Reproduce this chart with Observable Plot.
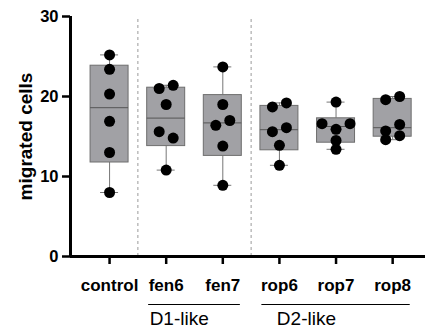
<!DOCTYPE html>
<html>
<head>
<meta charset="utf-8">
<script src="https://cdn.jsdelivr.net/npm/d3@7"></script>
<script src="https://cdn.jsdelivr.net/npm/@observablehq/plot@0.6"></script>
<style>
  html, body { margin: 0; padding: 0; background: #fff; }
  #chart svg { display: block; }
</style>
</head>
<body>
<div id="chart"></div>
<script>
// ---- data ----
const categories = ["control", "fen6", "fen7", "rop6", "rop7", "rop8"];
const controlValues = [25.2, 23.4, 20.3, 16.9, 13.0, 8.0];
const fen6Values    = [21.0, 21.4, 19.0, 15.6, 14.8, 10.8];
const fen7Values    = [23.7, 19.0, 16.4, 17.0, 13.8, 8.9];
const rop6Values    = [18.7, 19.2, 15.6, 16.1, 13.9, 11.4];
const rop7Values    = [19.3, 16.6, 15.9, 16.6, 14.5, 13.4];
const rop8Values    = [19.6, 20.0, 15.7, 16.5, 14.6, 15.1];
const seriesValues = [controlValues, fen6Values, fen7Values, rop6Values, rop7Values, rop8Values];
const groupNames = ["D1-like", "D2-like"];
const groupFirst = ["fen6", "rop6"];
const groupLast  = ["fen7", "rop8"];
const yTicks = [0, 10, 20, 30];
const yLabel = "migrated cells";

// ---- layout / style ----
const W = 425, H = 329;
const mL = 70, mR = 0, mT = 16, mB = 73;
const xDomain = [-0.69, 5.58];
const pxPerUnit = (W - mL - mR) / (xDomain[1] - xDomain[0]);
const boxHalf = 19 / pxPerUnit;
const capHalf = 9 / pxPerUnit;
const groupPad = 0.31;
const groupLabelDx = [1, 15]; // px from the start of each group line
const laneSpacing = 14; // px
const font = "'Liberation Sans', Arial, sans-serif";

// GraphPad-style quartiles ((n+1)p method)
function quant(sorted, p) {
  const n = sorted.length, h = (n + 1) * p, lo = Math.floor(h);
  if (lo < 1) return sorted[0];
  if (lo >= n) return sorted[n - 1];
  return sorted[lo - 1] + (h - lo) * (sorted[lo] - sorted[lo - 1]);
}

const stats = categories.map((c, i) => {
  const s = seriesValues[i].slice().sort(d3.ascending);
  return {i, c, min: s[0], max: s[s.length - 1], q1: quant(s, 0.25), med: quant(s, 0.5), q3: quant(s, 0.75)};
});

// dots with simple cluster-spread offsets
const points = [];
categories.forEach((c, i) => {
  const vals = seriesValues[i];
  const order = d3.range(vals.length).sort((a, b) => vals[b] - vals[a]);
  let k = 0;
  while (k < order.length) {
    const cluster = [order[k]];
    let j = k + 1;
    while (j < order.length && vals[order[k]] - vals[order[j]] < 1.0) { cluster.push(order[j]); j++; }
    cluster.sort((a, b) => a - b);
    cluster.forEach((idx, m) => {
      const off = (m - (cluster.length - 1) / 2) * laneSpacing;
      points.push({c, v: vals[idx], x: i + off / pxPerUnit});
    });
    k = j;
  }
});

const groups = groupNames.map((g, k) => ({
  name: g,
  a: categories.indexOf(groupFirst[k]),
  b: categories.indexOf(groupLast[k]),
  dx: groupLabelDx[k]
}));
const separators = groups.map(g => g.a - 0.5);

const chart = Plot.plot({
  width: W, height: H,
  marginLeft: mL, marginRight: mR, marginTop: mT, marginBottom: mB,
  style: {fontFamily: font, background: "#fff"},
  x: {domain: xDomain, axis: null},
  y: {domain: [0, 30], axis: null},
  marks: [
    Plot.ruleX(separators, {x: d => d, y1: 0, y2: 30, stroke: "#9a9a9a", strokeWidth: 1, strokeDasharray: "3,3"}),
    Plot.ruleX(stats, {x: "i", y1: "min", y2: "q1", stroke: "#777", strokeWidth: 1}),
    Plot.ruleX(stats, {x: "i", y1: "q3", y2: "max", stroke: "#777", strokeWidth: 1}),
    Plot.rectY(stats, {x1: d => d.i - boxHalf, x2: d => d.i + boxHalf, y1: "q1", y2: "q3", fill: "#a1a1a5", stroke: "#6e6e6e", strokeWidth: 1}),
    Plot.ruleY(stats, {y: "med", x1: d => d.i - boxHalf, x2: d => d.i + boxHalf, stroke: "#555", strokeWidth: 1}),
    Plot.ruleY(stats, {y: "min", x1: d => d.i - capHalf, x2: d => d.i + capHalf, stroke: "#777", strokeWidth: 1}),
    Plot.ruleY(stats, {y: "max", x1: d => d.i - capHalf, x2: d => d.i + capHalf, stroke: "#777", strokeWidth: 1}),
    Plot.dot(points, {x: "x", y: "v", r: 5.5, fill: "#000", stroke: "none"}),
    // axes
    Plot.axisY({ticks: yTicks, tickSize: 8, tickPadding: 4, strokeWidth: 2.5, fontSize: 16.5, fontWeight: "bold", fill: "#000", label: null}),
    Plot.axisX({ticks: d3.range(categories.length), tickFormat: i => categories[i], tickSize: 8, tickPadding: 14, strokeWidth: 2.5, fontSize: 17, fontWeight: "bold", fill: "#000", label: null}),
    Plot.ruleX([xDomain[0]], {y1: 0, y2: 30, stroke: "#000", strokeWidth: 3}),
    Plot.ruleY([0], {x1: xDomain[0], x2: xDomain[1], stroke: "#000", strokeWidth: 3}),
    // y label
    Plot.text([yLabel], {frameAnchor: "left", textAnchor: "middle", rotate: -90, dx: -45, fontSize: 19, fontWeight: "bold", fill: "#000"}),
    // group annotations
    Plot.ruleY(groups, {y: 0, x1: d => d.a - groupPad, x2: d => d.b + groupPad, dy: 48, stroke: "#000", strokeWidth: 1.2}),
    ...groups.map(g => Plot.text([g], {x: d => d.a - groupPad, y: 0, dx: g.dx, dy: 62, text: "name", textAnchor: "start", fontSize: 19, fill: "#000"}))
  ]
});
document.getElementById("chart").appendChild(chart);
</script>
</body>
</html>
